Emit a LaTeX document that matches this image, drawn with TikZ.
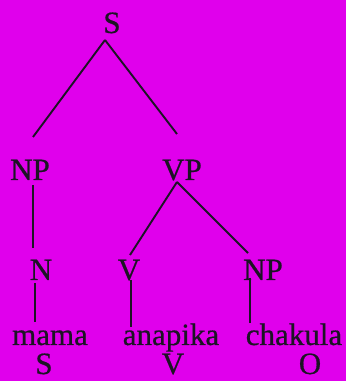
\documentclass[tikz,border=0pt]{standalone}
\usepackage{fontspec}
\setmainfont{Liberation Serif}
\newfontfamily\treefont{Liberation Serif}[FakeBold=0.6]
\definecolor{paper}{RGB}{224,0,236}
\definecolor{ink}{RGB}{28,20,36}
\begin{document}
\begin{tikzpicture}[x=1pt,y=1pt,
    lbl/.style={anchor=base,inner sep=0pt,text=ink,font=\treefont\fontsize{31}{31}\selectfont},
    branch/.style={draw=ink,line width=1.9pt}]
      \fill[paper] (0,0) rectangle (346,381);
      \useasboundingbox (0,0) rectangle (346,381);
      % categories
      \node[lbl] (S) at (112,348) {S};
      \node[lbl] (NP) at (30,201) {NP};
      \node[lbl] (VP) at (182,201) {VP};
      \node[lbl] (N) at (41,101) {N};
      \node[lbl] (V) at (129,101) {V};
      \node[lbl] (NPo) at (263,101) {NP};
      % words and functions
      \node[lbl] (mama) at (50,36) {mama};
      \node[lbl] (anapika) at (171,36) {anapika};
      \node[lbl] (chakula) at (294,36) {chakula};
      \node[lbl] (fS) at (44,7) {S};
      \node[lbl] (fV) at (173,7) {V};
      \node[lbl] (fO) at (310,7) {O};
      % branches
      \draw[branch] ([shift={(-7,-7)}]S.base) -- ([shift={(3,43)}]NP.base);
      \draw[branch] ([shift={(-7,-7)}]S.base) -- ([shift={(-5,46)}]VP.base);
      \draw[branch] ([shift={(3,-5)}]NP.base) -- ([shift={(-8,32)}]N.base);
      \draw[branch] ([shift={(-6,-3)}]N.base) -- ([shift={(-15,23)}]mama.base);
      \draw[branch] ([shift={(-5,-2)}]VP.base) -- ([shift={(1,25)}]V.base);
      \draw[branch] ([shift={(-5,-2)}]VP.base) -- ([shift={(-15,27)}]NPo.base);
      \draw[branch] ([shift={(2,0)}]V.base) -- ([shift={(-40,18)}]anapika.base);
      \draw[branch] ([shift={(-13,2)}]NPo.base) -- ([shift={(-44,22)}]chakula.base);
\end{tikzpicture}
\end{document}
